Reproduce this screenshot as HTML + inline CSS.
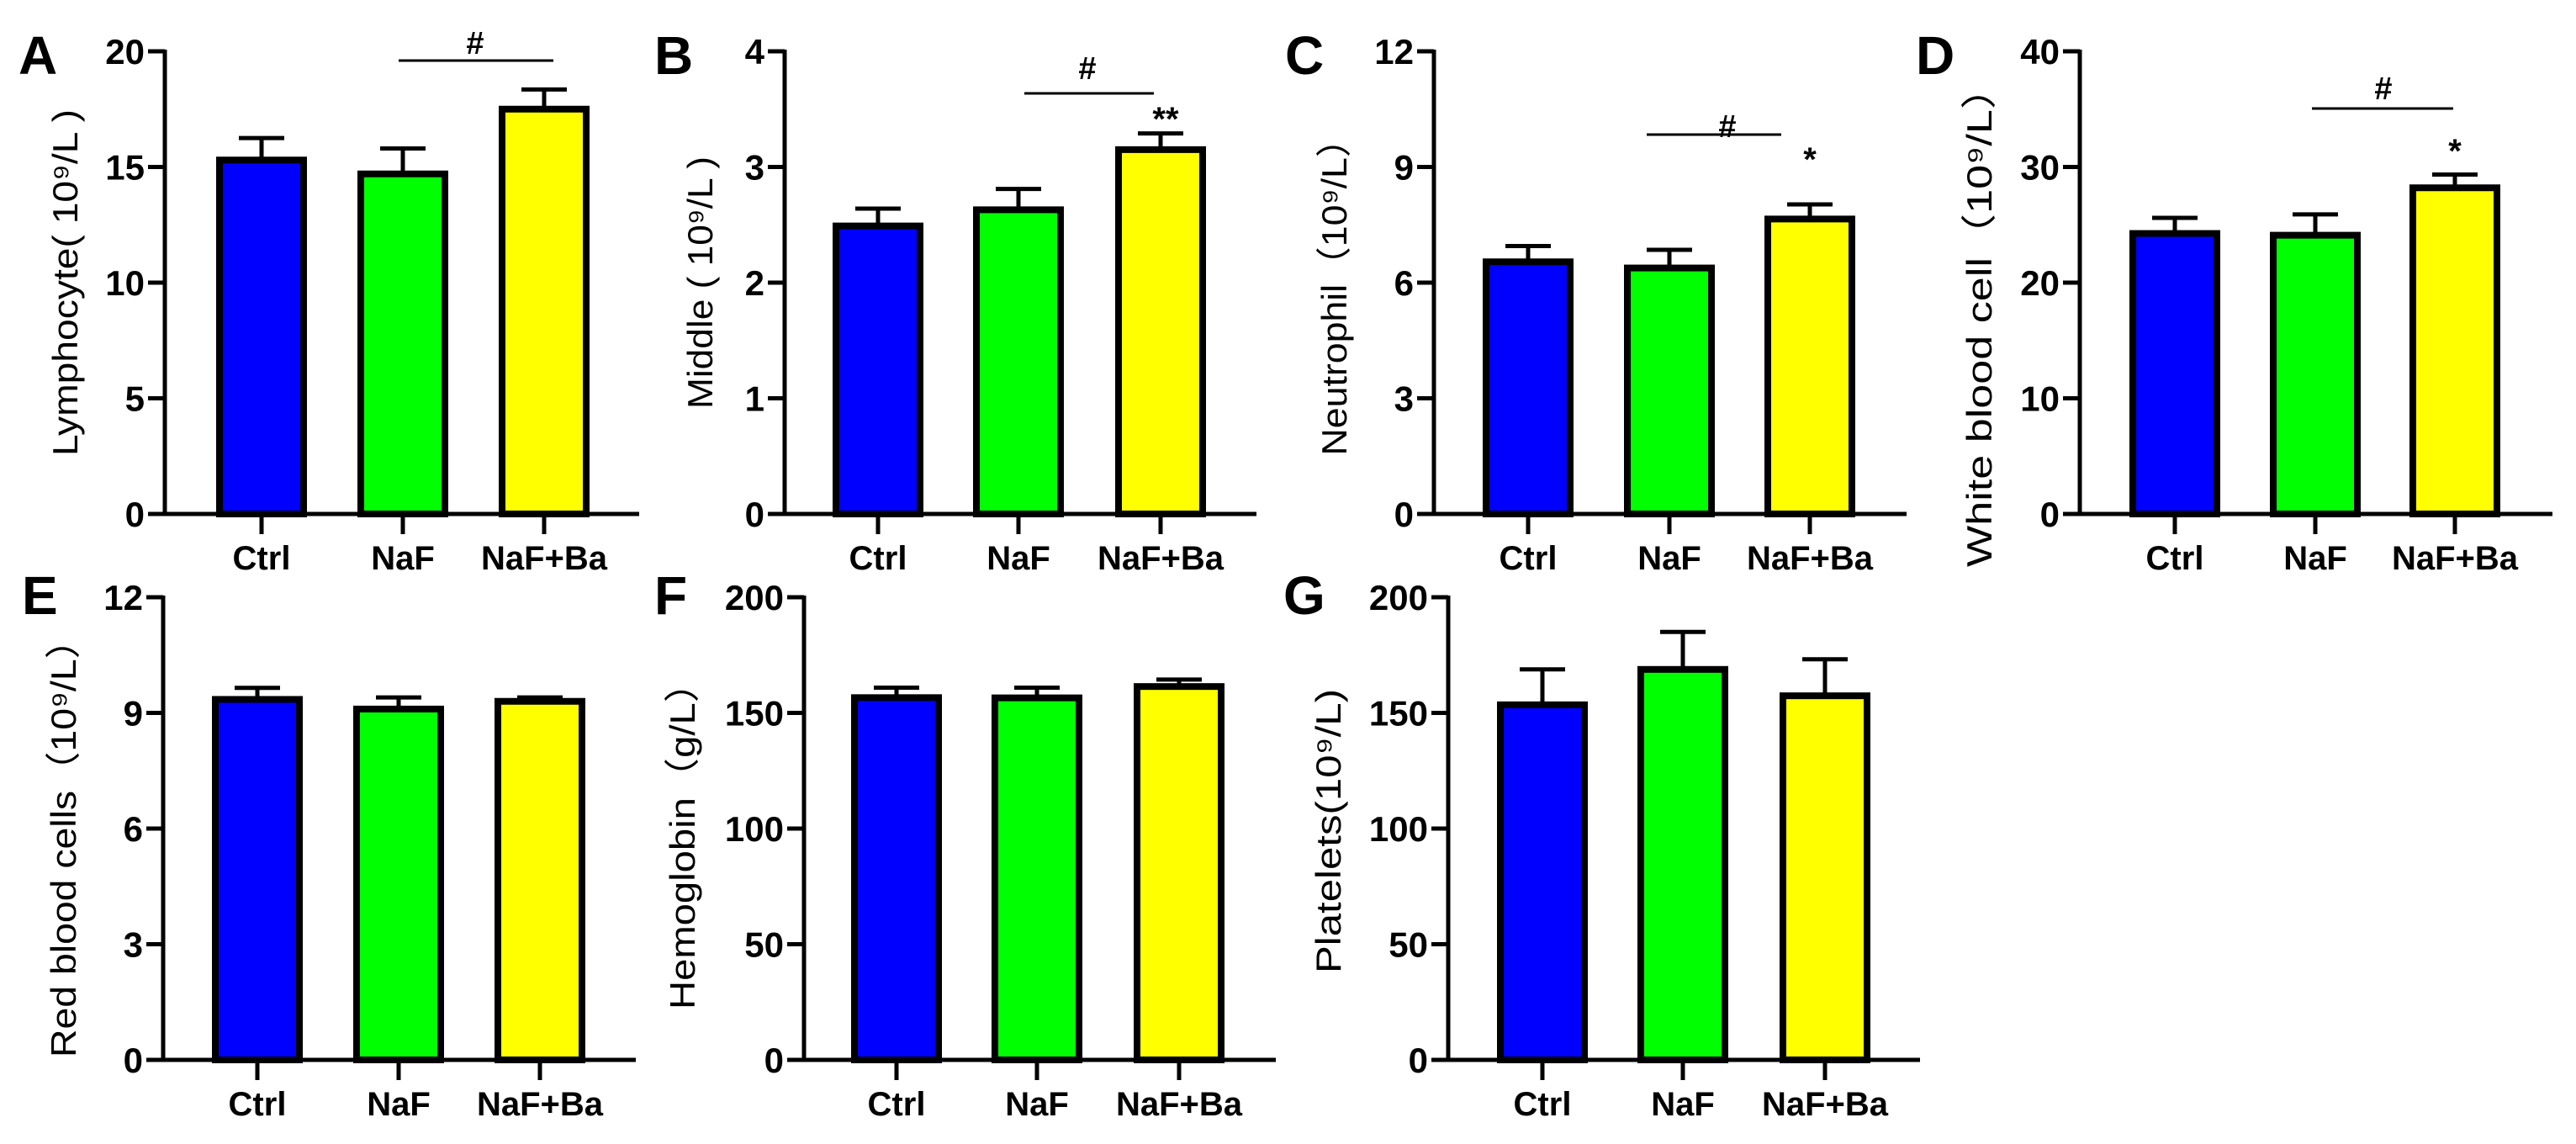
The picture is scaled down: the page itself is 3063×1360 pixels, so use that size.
<!DOCTYPE html>
<html><head><meta charset="utf-8"><style>
html,body{margin:0;padding:0;background:#fff;}
svg{display:block;}
text{font-family:"Liberation Sans","Noto Sans CJK SC",sans-serif;fill:#000;}
</style></head><body>
<svg id="fig" width="3063" height="1360" viewBox="0 0 3063 1360" xmlns="http://www.w3.org/2000/svg"></svg>
<script>
const categories = ["Ctrl", "NaF", "NaF+Ba"];
const colors = ["#0000ff", "#00ff00", "#ffff00"];
const lymphMeans = [15.3, 14.7, 17.5];
const lymphErrs = [0.95, 1.1, 0.85];
const middleMeans = [2.49, 2.63, 3.15];
const middleErrs = [0.15, 0.18, 0.14];
const neutroMeans = [6.54, 6.38, 7.65];
const neutroErrs = [0.41, 0.47, 0.38];
const wbcMeans = [24.25, 24.1, 28.2];
const wbcErrs = [1.35, 1.8, 1.15];
const rbcMeans = [9.35, 9.1, 9.3];
const rbcErrs = [0.3, 0.3, 0.1];
const hgbMeans = [156.6, 156.5, 161.4];
const hgbErrs = [4.3, 4.4, 3.0];
const pltMeans = [153.5, 168.8, 157.4];
const pltErrs = [15.3, 16.2, 15.8];
const ticksA = [0, 5, 10, 15, 20];
const ticksB = [0, 1, 2, 3, 4];
const ticksC = [0, 3, 6, 9, 12];
const ticksD = [0, 10, 20, 30, 40];
const ticksE = [0, 3, 6, 9, 12];
const ticksF = [0, 50, 100, 150, 200];
const ticksG = [0, 50, 100, 150, 200];

const NS = "http://www.w3.org/2000/svg";
const svg = document.getElementById("fig");
function mk(tag, attrs, parent) {
  const e = document.createElementNS(NS, tag);
  for (const k in attrs) e.setAttribute(k, attrs[k]);
  (parent || svg).appendChild(e);
  return e;
}

const panels = [
  {id:"a", letter:"A", lx:22, ly:88, ax:196, top:61, zero:611, xEnd:760, cx:[311,479,647], means:lymphMeans, errs:lymphErrs, ticks:ticksA,
   title:"Lymphocyte( 10⁹/L )", tx:92, ty:336, tlen:412,
   sig:{x1:474, x2:658, y:72, hx:565, hy:64}, stars:null},
  {id:"b", letter:"B", lx:778, ly:88, ax:933, top:61, zero:611, xEnd:1494, cx:[1044,1211,1380], means:middleMeans, errs:middleErrs, ticks:ticksB,
   title:"Middle ( 10⁹/L )", tx:67, ty:336, tlen:300, tx0:780,
   sig:{x1:1218, x2:1372, y:111, hx:1293, hy:94}, stars:{x:1386, y:155, t:"**"}},
  {id:"c", letter:"C", lx:1528, ly:88, ax:1705, top:61, zero:611, xEnd:2267, cx:[1817,1985,2152], means:neutroMeans, errs:neutroErrs, ticks:ticksC,
   title:"Neutrophil（10⁹/L）", tx:41, ty:342, tlen:399, tx0:1560,
   sig:{x1:1958, x2:2118, y:160, hx:2054, hy:163}, stars:{x:2152, y:203, t:"*"}},
  {id:"d", letter:"D", lx:2278, ly:88, ax:2473, top:61, zero:611, xEnd:3035, cx:[2586,2753,2919], means:wbcMeans, errs:wbcErrs, ticks:ticksD,
   title:"White blood cell（10⁹/L）", tx:68, ty:376, tlen:596, tx0:2300,
   sig:{x1:2749, x2:2917, y:129, hx:2834, hy:118}, stars:{x:2919, y:193, t:"*"}},
  {id:"e", letter:"E", lx:26, ly:730, ax:194, top:710, zero:1260, xEnd:756, cx:[306,474,642], means:rbcMeans, errs:rbcErrs, ticks:ticksE,
   title:"Red blood cells（10⁹/L）", tx:90, ty:997, tlen:520, tx0:0, sig:null, stars:null},
  {id:"f", letter:"F", lx:778, ly:730, ax:956, top:710, zero:1260, xEnd:1517, cx:[1066,1233,1402], means:hgbMeans, errs:hgbErrs, ticks:ticksF,
   title:"Hemoglobin（g/L）", tx:46, ty:994, tlen:412, tx0:780, sig:null, stars:null},
  {id:"g", letter:"G", lx:1526, ly:730, ax:1722, top:710, zero:1260, xEnd:2283, cx:[1834,2001,2170], means:pltMeans, errs:pltErrs, ticks:ticksG,
   title:"Platelets(10⁹/L)", tx:34, ty:988, tlen:338, tx0:1560, sig:null, stars:null}
];

panels.forEach(p => {
  const g = mk("g", {});
  
  
  const maxV = p.ticks[p.ticks.length - 1];
  const y = v => p.zero - (v / maxV) * (p.zero - p.top);

  const L = mk("text", {x:p.lx, y:p.ly, "font-size":64, "font-weight":"bold"}, g);
  L.textContent = p.letter;
  
  

  p.means.forEach((m, i) => {
    const bw = 100, x = p.cx[i] - bw / 2;
    const e = p.errs[i];
    const eb = mk("line", {x1:p.cx[i], x2:p.cx[i], y1:y(m), y2:y(m + e), stroke:"#000", "stroke-width":5}, g);
    
    
    const cap = mk("line", {x1:p.cx[i] - 27, x2:p.cx[i] + 27, y1:y(m + e), y2:y(m + e), stroke:"#000", "stroke-width":5}, g);
    
    
    const r = mk("rect", {x:x, y:y(m), width:bw, height:p.zero - y(m), fill:colors[i], stroke:"#000", "stroke-width":8}, g);
    
    
  });

  const ya = mk("line", {x1:p.ax, x2:p.ax, y1:p.top - 2, y2:p.zero, stroke:"#000", "stroke-width":5}, g);
  
  
  const xa = mk("line", {x1:p.ax - 20, x2:p.xEnd, y1:p.zero, y2:p.zero, stroke:"#000", "stroke-width":5}, g);
  
  

  p.ticks.forEach(t => {
    mk("line", {x1:p.ax - 20, x2:p.ax, y1:y(t), y2:y(t), stroke:"#000", "stroke-width":5}, g);
    const tl = mk("text", {x:p.ax - 24, y:y(t) + 15, "font-size":42, "font-weight":"bold", "text-anchor":"end"}, g);
    tl.textContent = t;
    
    
  });
  categories.forEach((c, i) => {
    mk("line", {x1:p.cx[i], x2:p.cx[i], y1:p.zero, y2:p.zero + 24, stroke:"#000", "stroke-width":5}, g);
    const xl = mk("text", {x:p.cx[i], y:p.zero + 66, "font-size":40, "font-weight":"bold", "text-anchor":"middle"}, g);
    xl.textContent = c;
    
    
  });

  const ox = (p.tx0 || 0) + p.tx;
  const tt = mk("text", {x:ox, y:p.ty, "font-size":42, "text-anchor":"middle", transform:"rotate(-90 " + ox + " " + p.ty + ")", textLength:p.tlen, lengthAdjust:"spacingAndGlyphs"}, g);
  tt.textContent = p.title;
  
  

  if (p.sig) {
    const sl = mk("line", {x1:p.sig.x1, x2:p.sig.x2, y1:p.sig.y, y2:p.sig.y, stroke:"#000", "stroke-width":3}, g);
    
    
    const h = mk("text", {x:p.sig.hx, y:p.sig.hy, "font-size":38, "font-weight":"bold", "text-anchor":"middle"}, g);
    h.textContent = "#";
    
    
  }
  if (p.stars) {
    const st = mk("text", {x:p.stars.x, y:p.stars.y, "font-size":40, "font-weight":"bold", "text-anchor":"middle"}, g);
    st.textContent = p.stars.t;
    
    
  }
});
</script>
</body></html>
